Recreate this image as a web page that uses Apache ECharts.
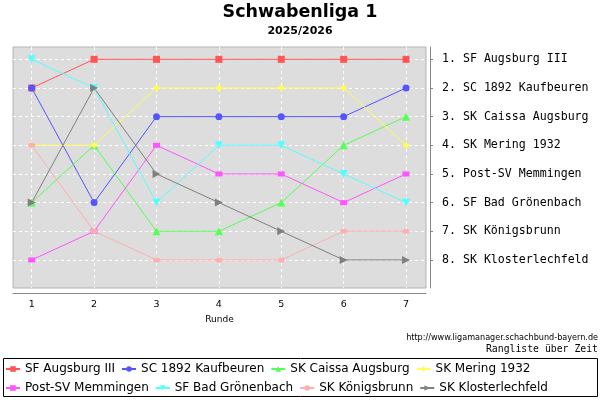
<!DOCTYPE html>
<html>
<head>
<meta charset="utf-8">
<script src="https://cdn.jsdelivr.net/npm/echarts@6/dist/echarts.min.js"></script>
<style>
html, body { margin: 0; padding: 0; background: #fff; }
#chart { width: 600px; height: 400px; }
</style>
</head>
<body>
<div id="chart"></div>
<script>
// Runden
var rounds = [1, 2, 3, 4, 5, 6, 7];
// Mannschaften
var teams = ["SF Augsburg III", "SC 1892 Kaufbeuren", "SK Caissa Augsburg", "SK Mering 1932",
	"Post-SV Memmingen", "SF Bad Grönenbach", "SK Königsbrunn", "SK Klosterlechfeld"];
// Platzierung je Runde
var rankAugsburg = [2, 1, 1, 1, 1, 1, 1];
var rankKaufbeuren = [2, 6, 3, 3, 3, 3, 2];
var rankCaissa = [6, 4, 7, 7, 6, 4, 3];
var rankMering = [4, 4, 2, 2, 2, 2, 4];
var rankMemmingen = [8, 7, 4, 5, 5, 6, 5];
var rankGroenenbach = [1, 2, 6, 4, 4, 5, 6];
var rankKoenigsbrunn = [4, 7, 8, 8, 8, 7, 7];
var rankKlosterlechfeld = [6, 2, 5, 6, 7, 8, 8];
var rankTicks = [1, 2, 3, 4, 5, 6, 7, 8];

var ranks = [rankAugsburg, rankKaufbeuren, rankCaissa, rankMering,
	rankMemmingen, rankGroenenbach, rankKoenigsbrunn, rankKlosterlechfeld];
var colors = ['#ff5555', '#5555ff', '#55ff55', '#ffff55', '#ff55ff', '#55ffff', '#ffafaf', '#808080'];
var symbols = ['rect', 'circle', 'triangle', 'diamond', 'rect', 'triangle', 'circle', 'triangle'];
var symbolSizes = [7, 7, 8, 7, [7, 5], 8, [7, 5], 8];
var rotations = [0, 0, 0, 0, 0, 180, 0, -90];

// Beschriftung rechts: Tabelle nach der letzten Runde
function finalLabel(value) {
	var last = rounds.length - 1;
	for (var i = 0; i < teams.length; i++) {
		if (ranks[i][last] == value) {
			return value + ". " + teams[i];
		}
	}
	return "";
}

var series = [];
for (var i = 0; i < teams.length; i++) {
	var data = [];
	for (var j = 0; j < rounds.length; j++) {
		data.push([rounds[j], ranks[i][j]]);
	}
	series.push({
		name: teams[i],
		type: 'line',
		data: data,
		symbol: symbols[i],
		symbolSize: symbolSizes[i],
		symbolRotate: rotations[i],
		showAllSymbol: true,
		animation: false,
		lineStyle: { color: colors[i], width: 1 },
		itemStyle: { color: colors[i] },
		emphasis: { disabled: true }
	});
}

function legendRow(top, names) {
	return {
		left: 5,
		top: top,
		data: names,
		itemWidth: 14,
		itemHeight: 7,
		itemGap: 6,
		padding: 0,
		textStyle: { fontFamily: 'DejaVu Sans', fontSize: 12, color: '#000' }
	};
}

var myChart = echarts.init(document.getElementById("chart"));
var option = {
	backgroundColor: '#fff',
	animation: false,
	title: {
		text: 'Schwabenliga 1',
		subtext: '2025/2026',
		left: 'center',
		top: 3,
		itemGap: 5,
		padding: 0,
		textStyle: { fontFamily: 'DejaVu Sans', fontSize: 17.5, fontWeight: 'bold', color: '#000' },
		subtextStyle: { fontFamily: 'DejaVu Sans', fontSize: 11, fontWeight: 'bold', color: '#000' }
	},
	// Legende in zwei Zeilen
	legend: [legendRow(363, teams.slice(0, 4)), legendRow(382, teams.slice(4))],
	grid: {
		left: 13,
		right: 174,
		top: 47,
		bottom: 112,
		show: true,
		backgroundColor: '#dddddd',
		borderColor: '#b4b4b4',
		borderWidth: 1
	},
	xAxis: {
		type: 'value',
		min: 0.7,
		max: 7.32,
		offset: 5,
		axisLine: { show: true, lineStyle: { color: '#888', width: 1 } },
		axisTick: { show: false, customValues: rounds },
		axisLabel: { customValues: rounds, fontFamily: 'DejaVu Sans', fontSize: 9.5, color: '#000', margin: 7 },
		splitLine: { show: true, lineStyle: { color: '#fff', type: [3, 3], width: 1 } },
		name: 'Runde',
		nameLocation: 'middle',
		nameGap: 22,
		nameTextStyle: { fontFamily: 'DejaVu Sans', fontSize: 9, color: '#000' }
	},
	yAxis: {
		type: 'value',
		inverse: true,
		min: 0.57,
		max: 8.98,
		position: 'right',
		offset: 4,
		axisLine: { show: true, lineStyle: { color: '#888', width: 1 } },
		axisTick: { show: true, inside: false, length: 3, customValues: rankTicks, lineStyle: { color: '#888' } },
		axisLabel: {
			customValues: rankTicks,
			margin: 12,
			fontFamily: 'DejaVu Sans Mono',
			fontSize: 11.6,
			color: '#000',
			formatter: finalLabel
		},
		splitLine: { show: true, lineStyle: { color: '#fff', type: [3, 3], width: 1 } }
	},
	graphic: [
		{
			type: 'rect',
			shape: { x: 3.5, y: 358.5, width: 594, height: 38 },
			style: { fill: 'none', stroke: '#000', lineWidth: 1 },
			silent: true
		},
		{
			type: 'text',
			right: 2,
			top: 333,
			style: { text: 'http://www.ligamanager.schachbund-bayern.de', font: '9px "DejaVu Sans Condensed"', fill: '#000' }
		},
		{
			type: 'text',
			right: 2,
			top: 344,
			style: { text: 'Rangliste über Zeit', font: '9.8px "DejaVu Sans Mono"', fill: '#000' }
		}
	],
	series: series
};

myChart.setOption(option, true);
</script>
</body>
</html>
